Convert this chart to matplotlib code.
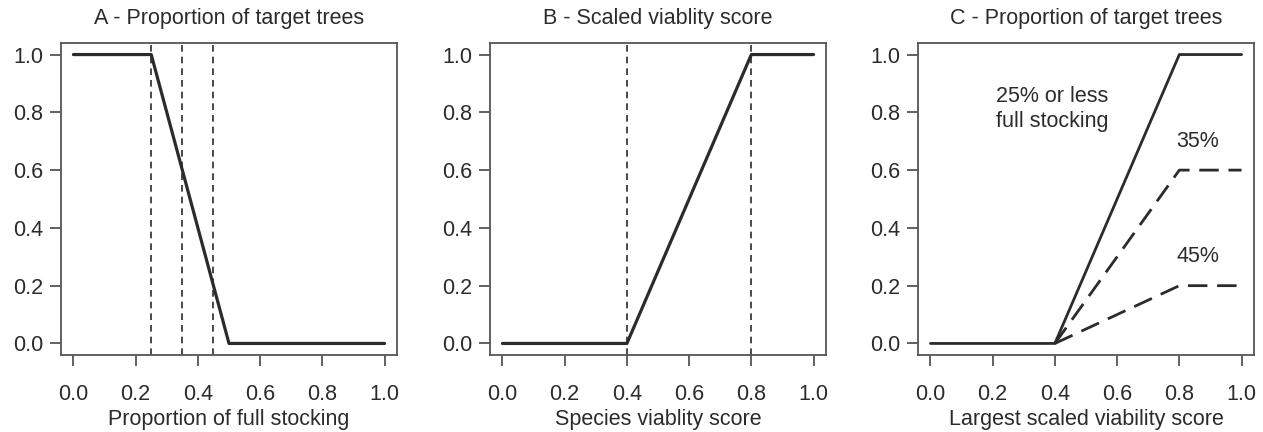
import numpy as np
import matplotlib
matplotlib.use("Agg")
import matplotlib.pyplot as plt

plt.rcParams["font.family"] = ["Liberation Sans", "DejaVu Sans"]
plt.rcParams["font.size"] = 15.5

INK = "#2b2b2b"
BOX = "#555555"
FS = 15.5

# panel A: proportion of target trees vs stocking
a_x = [0.0, 0.25, 0.5, 1.0]
a_y = [1.0, 1.0, 0.0, 0.0]
a_vlines = [0.25, 0.35, 0.45]

# panel B: scaled viability score
b_x = [0.0, 0.4, 0.8, 1.0]
b_y = [0.0, 0.0, 1.0, 1.0]
b_vlines = [0.4, 0.8]

# panel C: proportion of target trees by stocking class
c_x = [0.0, 0.4, 0.8, 1.0]
c_y25 = [0.0, 0.0, 1.0, 1.0]
c_x_dash = [0.4, 0.8, 1.0]
c_v35 = [0.0, 0.6, 0.6]
c_v45 = [0.0, 0.2, 0.2]

ticks = [0.0, 0.2, 0.4, 0.6, 0.8, 1.0]
tick_labels = ["0.0", "0.2", "0.4", "0.6", "0.8", "1.0"]

fig = plt.figure(figsize=(12.63, 4.32), dpi=100)
lefts = [61, 490, 918]
axes = []
for l in lefts:
    ax = fig.add_axes([l / 1263, 1 - 355 / 432, 336 / 1263, 312 / 432])
    ax.set_xlim(-0.04, 1.04)
    ax.set_ylim(-0.04, 1.04)
    ax.set_xticks(ticks)
    ax.set_xticklabels(tick_labels)
    ax.set_yticks(ticks)
    ax.set_yticklabels(tick_labels)
    ax.tick_params(direction="out", length=8, width=1.3, color=BOX,
                   labelcolor=INK, labelsize=FS)
    ax.tick_params(axis="x", pad=13)
    ax.tick_params(axis="y", pad=5)
    for s in ax.spines.values():
        s.set_color(BOX)
        s.set_linewidth(1.3)
    axes.append(ax)

ax1, ax2, ax3 = axes

ax1.plot(a_x, a_y, color=INK, lw=2.3, solid_capstyle="round")
for v in a_vlines:
    ax1.axvline(v, color=INK, lw=1.2, ls=(0, (4, 3)))
ax1.set_title("A - Proportion of target trees", color=INK, fontsize=FS, pad=14)
ax1.set_xlabel("Proportion of full stocking", color=INK, fontsize=FS, labelpad=2.5)

ax2.plot(b_x, b_y, color=INK, lw=2.3, solid_capstyle="round")
for v in b_vlines:
    ax2.axvline(v, color=INK, lw=1.2, ls=(0, (4, 3)))
ax2.set_title("B - Scaled viablity score", color=INK, fontsize=FS, pad=14)
ax2.set_xlabel("Species viablity score", color=INK, fontsize=FS, labelpad=2.5)

ax3.plot(c_x, c_y25, color=INK, lw=2.0, solid_capstyle="round")
ax3.plot(c_x_dash, c_v35, color=INK, lw=2.0, ls=(0, (7, 3.5)))
ax3.plot(c_x_dash, c_v45, color=INK, lw=2.0, ls=(0, (7, 3.5)))
ax3.text(0.39, 0.81, "25% or less\nfull stocking", ha="center", va="center",
         color=INK, fontsize=FS, linespacing=1.25)
ax3.text(0.86, 0.70, "35%", ha="center", va="center", color=INK, fontsize=FS)
ax3.text(0.86, 0.30, "45%", ha="center", va="center", color=INK, fontsize=FS)
ax3.set_title("C - Proportion of target trees", color=INK, fontsize=FS, pad=14)
ax3.set_xlabel("Largest scaled viability score", color=INK, fontsize=FS, labelpad=2.5)

fig.savefig("out.png", dpi=100)
